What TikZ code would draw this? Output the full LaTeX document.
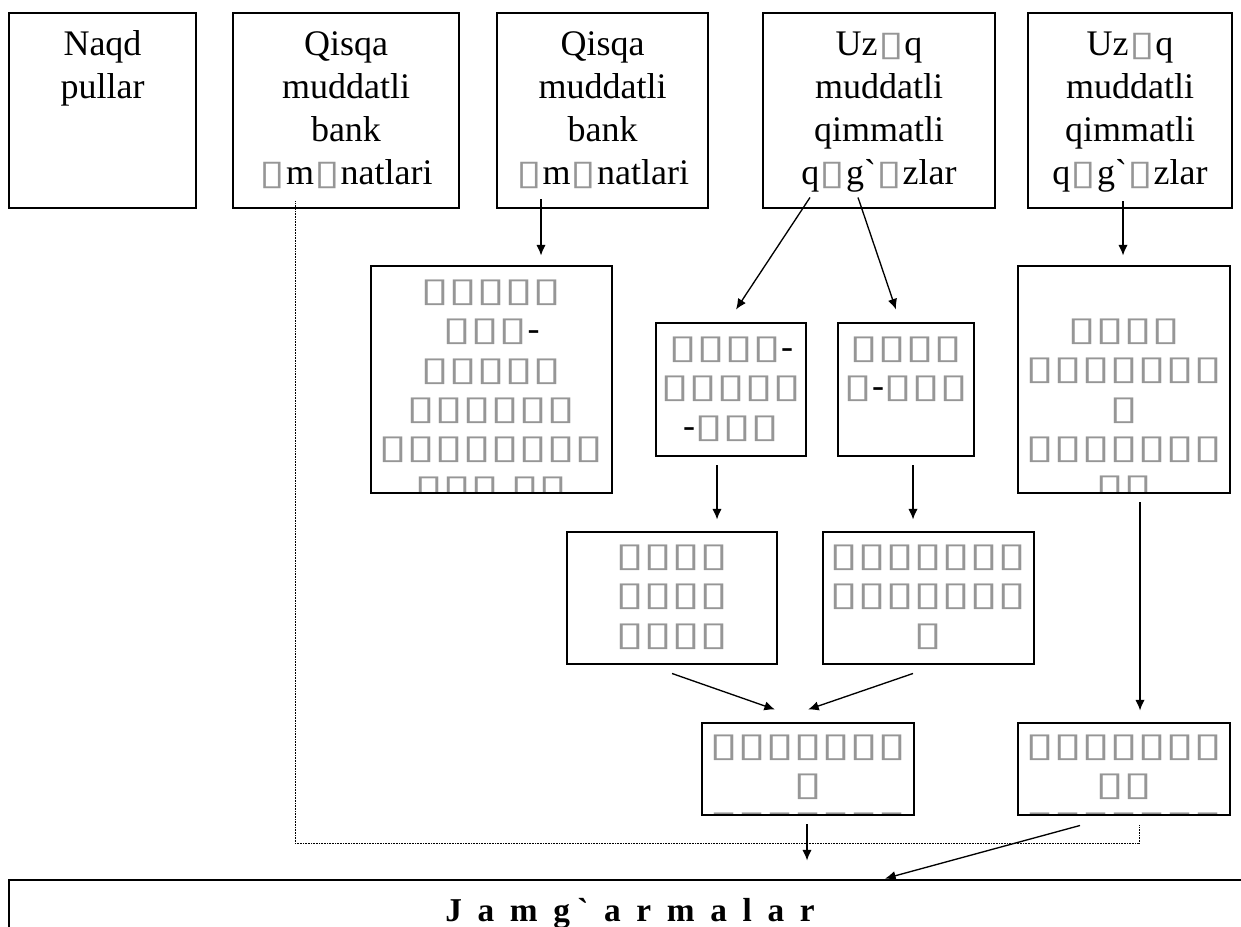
\documentclass[tikz,border=0pt]{standalone}
\usepackage{fontspec}
\usepackage{graphicx}
\setmainfont{Liberation Serif}[Ligatures=TeXOff]
\newfontfamily\tofufont{DejaVu Sans}
\usetikzlibrary{arrows.meta,calc,fit}
\definecolor{tofucol}{RGB}{150,150,150}
\newcommand\tfl{\makebox[21pt]{\fontsize{24pt}{24pt}\selectfont\tofufont\color{tofucol}\scalebox{1.65}[1.05]{▯}}}
\newcommand\tft{\makebox[20pt]{\fontsize{26pt}{26pt}\selectfont\tofufont\color{tofucol}\scalebox{1.35}[1.0]{▯}}}
\begin{document}
\begin{tikzpicture}[x=0.75pt,y=-0.75pt,
  bx/.style={draw, line width=2.2pt, inner sep=0pt},
  ttxt/.style={anchor=base, align=center, text width=200pt, inner sep=0pt, font=\fontsize{27pt}{32.25pt}\selectfont},
  ltxt/.style={anchor=base, align=center, text width=220pt, inner sep=0pt, font=\fontsize{27pt}{29.5pt}\selectfont},
  arr/.style={-{Latex[length=8pt,width=7pt]}, line width=1pt},
  dotline/.style={line width=0.6pt, dash pattern=on 0.6pt off 0.6pt}]
\useasboundingbox (0,0) rectangle (1241,926);

% top row
\node[bx, fit={(9,13) (196,208)}] (N) {};
\node[bx, fit={(233,13) (459,208)}] (Q1) {};
\node[bx, fit={(497,13) (708,208)}] (Q2) {};
\node[bx, fit={(763,13) (995,208)}] (U1) {};
\node[bx, fit={(1028,13) (1232,208)}] (U2) {};
\node[ttxt] (Nt) at (102.5,55) {Naqd\\pullar};
\node[ttxt] (Q1t) at (346,55) {Qisqa\\muddatli\\bank\\\tft m\tft natlari};
\node[ttxt] (Q2t) at (602.5,55) {Qisqa\\muddatli\\bank\\\tft m\tft natlari};
\node[ttxt] (U1t) at (879,55) {Uz\tft q\\muddatli\\qimmatli\\q\tft g`\tft zlar};
\node[ttxt] (U2t) at (1130,55) {Uz\tft q\\muddatli\\qimmatli\\q\tft g`\tft zlar};

% second row
\begin{scope}\clip (373,268) rectangle (610,491);
\node[ltxt] (At) at (491.5,301.5) {\tfl\tfl\tfl\tfl\tfl\\\tfl\tfl\tfl-\\\tfl\tfl\tfl\tfl\tfl\\\tfl\tfl\tfl\tfl\tfl\tfl\\\tfl\tfl\tfl\tfl\tfl\tfl\tfl\tfl\\\tfl\tfl\tfl\ \tfl\tfl};
\end{scope}
\node[bx, fit={(371,266) (612,493)}] (A) {};
\node[ltxt] (Bt) at (731,358.5) {\tfl\tfl\tfl\tfl-\\\tfl\tfl\tfl\tfl\tfl\\-\tfl\tfl\tfl};
\node[bx, fit={(656,323) (806,456)}] (B) {};
\node[ltxt] (Ct) at (906,358.5) {\tfl\tfl\tfl\tfl\\\tfl-\tfl\tfl\tfl};
\node[bx, fit={(838,323) (974,456)}] (C) {};
\begin{scope}\clip (1020,268) rectangle (1228,491);
\node[ltxt] (Dt) at (1124,340.5) {\tfl\tfl\tfl\tfl\\\tfl\tfl\tfl\tfl\tfl\tfl\tfl\\\tfl\\\tfl\tfl\tfl\tfl\tfl\tfl\tfl\\\tfl\tfl};
\end{scope}
\node[bx, fit={(1018,266) (1230,493)}] (D) {};

% third row
\node[ltxt] (Et) at (672,566.5) {\tfl\tfl\tfl\tfl\\\tfl\tfl\tfl\tfl\\\tfl\tfl\tfl\tfl};
\node[bx, fit={(567,532) (777,664)}] (E) {};
\node[ltxt] (Ft) at (928.5,566.5) {\tfl\tfl\tfl\tfl\tfl\tfl\tfl\\\tfl\tfl\tfl\tfl\tfl\tfl\tfl\\\tfl};
\node[bx, fit={(823,532) (1034,664)}] (F) {};

% fourth row
\begin{scope}\clip (704,725) rectangle (912,813.8);
\node[ltxt] (Gt) at (808,756) {\tfl\tfl\tfl\tfl\tfl\tfl\tfl\\\tfl\\\tfl\tfl\tfl\tfl\tfl\tfl\tfl};
\end{scope}
\node[bx, fit={(702,723) (914,815)}] (G) {};
\begin{scope}\clip (1020,725) rectangle (1228,813.8);
\node[ltxt] (Ht) at (1124,756) {\tfl\tfl\tfl\tfl\tfl\tfl\tfl\\\tfl\tfl\\\tfl\tfl\tfl\tfl\tfl\tfl\tfl};
\end{scope}
\node[bx, fit={(1018,723) (1230,815)}] (H) {};

% bottom box
\node[bx, fit={(9,880) (1262,960)}] (Jam) {};
\node[anchor=base, inner sep=0pt, font=\fontsize{25pt}{25pt}\selectfont\bfseries\addfontfeature{LetterSpace=22}] (JamT) at (630,921) {J a m g` a r m a l a r};

% connectors
\draw[arr] ($(541,0 |- Q2.south)+(0,-10)$) -- ($(541,0 |- A.north)+(0,-9)$);
\draw[arr] ($(810,0 |- U1.south)+(0,-12)$) -- ($(736,0 |- B.north)+(0,-12)$);
\draw[arr] ($(858,0 |- U1.south)+(0,-12)$) -- ($(896,0 |- C.north)+(0,-12)$);
\draw[arr] ($(1123,0 |- U2.south)+(0,-8)$) -- ($(1123,0 |- D.north)+(0,-9)$);
\draw[arr] ($(717,0 |- B.south)+(0,8)$) -- ($(717,0 |- E.north)+(0,-11)$);
\draw[arr] ($(913,0 |- C.south)+(0,8)$) -- ($(913,0 |- F.north)+(0,-11)$);
\draw[arr] ($(1140,0 |- D.south)+(0,8)$) -- ($(1140,0 |- H.north)+(0,-11)$);
\draw[arr] ($(672,0 |- E.south)+(0,8)$) -- ($(775,0 |- G.north)+(0,-12)$);
\draw[arr] ($(913,0 |- F.south)+(0,8)$) -- ($(808,0 |- G.north)+(0,-12)$);
\draw[arr] ($(807,0 |- G.south)+(0,8)$) -- ($(807,0 |- Jam.north)+(0,-18)$);
\draw[arr] ($(1080,0 |- H.south)+(0,9)$) -- (885,0 |- Jam.north);
\coordinate (d1) at (295,843);
\coordinate (d2) at (1139,843);
\draw[dotline] ($(295,0 |- Q1.south)+(0,-8)$) -- (d1) -- (d2) -- ($(1139,0 |- H.south)+(0,9)$);
\end{tikzpicture}
\end{document}
